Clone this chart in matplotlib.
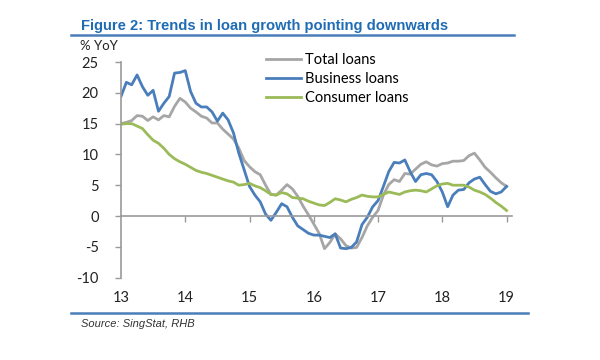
import numpy as np
import matplotlib
matplotlib.use('Agg')
import matplotlib.pyplot as plt
from matplotlib.lines import Line2D
import matplotlib.transforms as mtransforms

# monthly % YoY, Jan 2013 .. Jan 2019
total_loans = [
    15.0, 15.2, 15.5, 16.3, 16.2, 15.5, 16.1, 15.6, 16.3, 16.1, 17.8, 19.1,
    18.5, 17.5, 16.9, 16.2, 15.9, 15.1, 15.1, 14.1, 13.3, 12.5, 11.0, 9.0,
    8.0, 7.2, 6.7, 5.0, 3.5, 3.4, 4.2, 5.1, 4.4, 3.2, 1.6, 0.2,
    -1.3, -2.8, -5.3, -4.3, -2.9, -3.7, -4.8, -5.2, -5.1, -3.5, -1.6, -0.2,
    0.9, 3.4, 5.1, 5.9, 5.6, 6.9, 6.8, 7.6, 8.4, 8.8, 8.3, 8.1,
    8.5, 8.6, 8.9, 8.9, 9.0, 9.8, 10.2, 9.1, 7.9, 7.1, 6.2, 5.4,
    4.8,
]
business_loans = [
    19.4, 21.7, 21.3, 22.9, 21.0, 19.6, 20.4, 17.0, 18.3, 19.4, 23.2, 23.3,
    23.6, 20.2, 18.3, 17.7, 17.7, 16.9, 15.4, 16.7, 15.6, 13.5, 10.2, 7.5,
    4.8, 3.4, 2.3, 0.3, -0.7, 0.6, 2.0, 1.5, -0.2, -1.6, -2.2, -2.8,
    -3.1, -3.1, -3.3, -3.5, -2.9, -5.2, -5.3, -5.1, -4.2, -1.4, -0.2, 1.5,
    2.5, 4.8, 7.2, 8.7, 8.6, 9.1, 7.2, 5.6, 6.7, 6.9, 6.7, 5.6,
    3.9, 1.5, 3.4, 4.2, 4.3, 5.4, 6.0, 6.3, 5.1, 4.0, 3.6, 3.9,
    4.8,
]
consumer_loans = [
    14.9, 15.0, 15.0, 14.6, 14.2, 13.2, 12.3, 11.8, 11.0, 10.0, 9.3, 8.8,
    8.4, 7.9, 7.4, 7.1, 6.9, 6.6, 6.3, 6.0, 5.7, 5.5, 5.0, 5.1,
    5.3, 4.9, 4.6, 4.1, 3.5, 3.4, 3.8, 3.6, 3.0, 2.9, 2.8, 2.4,
    2.1, 1.8, 1.7, 2.2, 2.8, 2.6, 2.3, 2.7, 3.0, 3.4, 3.2, 3.1,
    3.1, 3.5, 3.9, 3.7, 3.5, 3.9, 4.1, 4.2, 4.1, 3.9, 4.4, 4.9,
    5.2, 5.3, 5.0, 5.0, 5.0, 4.7, 4.2, 3.9, 3.5, 2.9, 2.2, 1.6,
    0.9,
]
year_labels = ['13', '14', '15', '16', '17', '18', '19']
yticks = [-10, -5, 0, 5, 10, 15, 20, 25]

x = 13 + np.arange(len(total_loans)) / 12.0

plt.rcParams['font.family'] = ['Lato', 'DejaVu Sans']
axis_grey = '#9a9a9a'

fig = plt.figure(figsize=(6, 3.6), dpi=100)
ax = fig.add_axes([121 / 600, 1 - 277.6 / 360, (511.7 - 121) / 600, (277.6 - 62) / 360])

ax.plot(x, total_loans, color='#a6a6a6', lw=2.0, label='Total loans')
ax.plot(x, business_loans, color='#4a7ebb', lw=2.0, label='Business loans')
ax.plot(x, consumer_loans, color='#9bbb59', lw=2.0, label='Consumer loans')

ax.set_xlim(13, 19.08)
ax.set_ylim(-10, 25)
ax.set_yticks(yticks)
ax.set_yticklabels([str(v) for v in yticks])
ax.tick_params(axis='y', direction='out', length=4, width=1, color=axis_grey,
               pad=12, labelsize=10.5, labelcolor='#222222')

# x axis crosses at zero, labels at the bottom
ax.spines['bottom'].set_position(('data', 0))
for side in ['top', 'right']:
    ax.spines[side].set_visible(False)
for side in ['left', 'bottom']:
    ax.spines[side].set_color(axis_grey)
    ax.spines[side].set_linewidth(1.2)
ax.set_xticks([14, 15, 16, 17, 18, 19])
ax.tick_params(axis='x', direction='out', length=4, width=1, color=axis_grey,
               labelbottom=False)
trans = mtransforms.blended_transform_factory(ax.transData, ax.transAxes)
for i, lab in enumerate(year_labels):
    ax.text(13 + i, -0.095, lab, transform=trans, ha='center', va='center',
            fontsize=10.5, color='#222222')

leg = ax.legend(loc='upper left', bbox_to_anchor=(0.355, 1.07), frameon=False,
                fontsize=10.5, handlelength=2.4, handletextpad=0.3,
                labelspacing=0.35, borderaxespad=0)

fig.text(81 / 600, 1 - 26 / 360, 'Figure 2: Trends in loan growth pointing downwards',
         family='Liberation Sans', fontweight='bold', fontsize=10.6,
         color='#1f6cb5', va='center', ha='left')
fig.add_artist(Line2D([71 / 600, 514 / 600], [1 - 34.5 / 360] * 2,
                      color='#4a7ebb', lw=1.8))
fig.text(80 / 600, 1 - 46 / 360, '% YoY', fontsize=9.5, color='#222222',
         va='center', ha='left')
fig.add_artist(Line2D([71 / 600, 528 / 600], [1 - 312.5 / 360] * 2,
                      color='#4a7ebb', lw=1.8))
fig.text(81 / 600, 1 - 324 / 360, 'Source: SingStat, RHB', family='Liberation Sans',
         style='italic', fontsize=8, color='#333333', va='center', ha='left')

fig.savefig('out.png', dpi=100)
